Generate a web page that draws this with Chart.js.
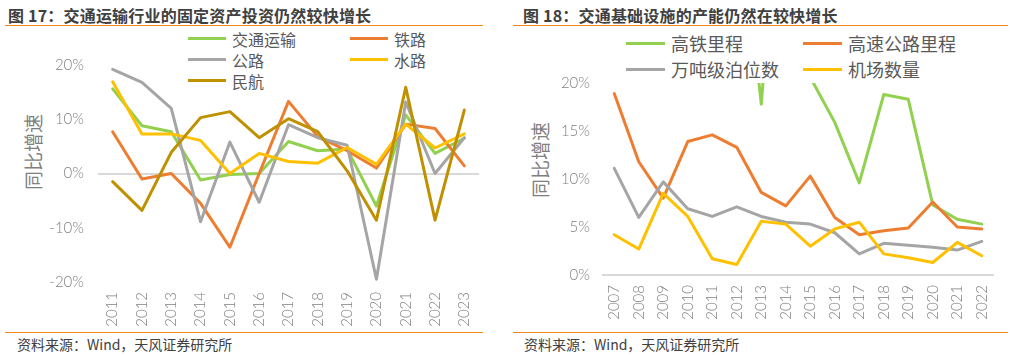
<!DOCTYPE html>
<html>
<head>
<meta charset="utf-8">
<script src="https://cdn.jsdelivr.net/npm/chart.js@4/dist/chart.umd.min.js"></script>
<style>
  html, body { margin: 0; padding: 0; background: #fff; }
  body { width: 1015px; height: 355px; position: relative; overflow: hidden;
         font-family: "Noto Sans CJK SC", "Noto Sans", sans-serif; }
  .title { position: absolute; top: 3px; font-size: 16px; font-weight: bold; color: #404040; white-space: nowrap; letter-spacing: 0.2px; }
  .rule { position: absolute; height: 1px; background: #F08519; }
  .source { position: absolute; top: 334px; font-size: 14px; color: #404040; white-space: nowrap; }
  .ytitle { position: absolute; font-size: 19px; color: #7f7f7f; transform: rotate(-90deg); transform-origin: center center; white-space: nowrap; }
  .legend { position: absolute; color: #595959; }
  .lg-item { position: absolute; display: flex; align-items: center; white-space: nowrap; }
  .lg-line { display: inline-block; height: 3px; margin-right: 6px; }
  canvas { position: absolute; top: 0; }
</style>
</head>
<body>
<div class="title" style="left:8px;">图 17：交通运输行业的固定资产投资仍然较快增长</div>
<div class="rule" style="left:5px; width:478px; top:25px;"></div>
<div class="rule" style="left:5px; width:478px; top:332px;"></div>
<div class="source" style="left:17px;">资料来源：Wind，天风证券研究所</div>

<div class="title" style="left:523px;">图 18：交通基础设施的产能仍然在较快增长</div>
<div class="rule" style="left:513px; width:495px; top:25px;"></div>
<div class="rule" style="left:513px; width:495px; top:332px;"></div>
<div class="source" style="left:524px;">资料来源：Wind，天风证券研究所</div>

<div class="ytitle" style="left:-5px; top:140px; width:76px; height:24px; line-height:24px;">同比增速</div>
<div class="ytitle" style="left:502px; top:148px; width:76px; height:24px; line-height:24px;">同比增速</div>

<div id="legend1" class="legend"></div>
<div id="legend2" class="legend"></div>

<canvas id="c1" width="495" height="330" style="left:0px; width:495px; height:330px;"></canvas>
<canvas id="c2" width="505" height="330" style="left:505px; width:505px; height:330px;"></canvas>

<script>
// ---------- Chart 17 data ----------
const years1 = ['2011','2012','2013','2014','2015','2016','2017','2018','2019','2020','2021','2022','2023'];
const transport = [15.6, 8.8, 7.7, -1.2, -0.2, 0.0, 5.9, 4.2, 4.5, -6.0, 10.8, 3.7, 6.5];
const railway   = [7.7, -1.0, 0.0, -5.5, -13.6, 0.0, 13.3, 6.8, 4.2, 1.0, 9.1, 8.3, 1.4];
const highway   = [19.2, 16.8, 12.0, -8.9, 5.8, -5.3, 9.0, 6.6, 5.2, -19.5, 13.2, 0.0, 6.6];
const waterway  = [16.9, 7.3, 7.3, 6.1, 0.0, 3.7, 2.2, 1.9, 4.8, 1.7, 9.1, 4.7, 7.3];
const aviation  = [-1.5, -6.8, 3.9, 10.3, 11.4, 6.6, 10.1, 7.7, 0.5, -8.6, 15.9, -8.6, 11.7];
const labels1 = ['交通运输', '铁路', '公路', '水路', '民航'];
const yTicks1 = { min: -20, max: 20, step: 10 };

// ---------- Chart 18 data ----------
const years2 = ['2007','2008','2009','2010','2011','2012','2013','2014','2015','2016','2017','2018','2019','2020','2021','2022'];
const hsrMileage     = [null, null, 301.6, 90.2, 28.6, 41.7, 17.8, 49.2, 20.6, 15.9, 9.6, 18.8, 18.3, 7.3, 5.8, 5.3];
const expressway     = [18.9, 11.8, 8.0, 13.9, 14.6, 13.3, 8.6, 7.2, 10.3, 6.0, 4.2, 4.6, 4.9, 7.6, 5.0, 4.8];
const berths         = [11.1, 6.0, 9.7, 6.9, 6.1, 7.1, 6.1, 5.5, 5.3, 4.4, 2.2, 3.3, 3.1, 2.9, 2.6, 3.5];
const airports       = [4.2, 2.7, 8.5, 6.1, 1.7, 1.1, 5.6, 5.3, 3.0, 4.8, 5.5, 2.2, 1.8, 1.3, 3.4, 2.0];
const labels2 = ['高铁里程', '高速公路里程', '万吨级泊位数', '机场数量'];
const yTicks2 = { min: 0, max: 20, step: 5 };

// ---------- styling ----------
const GREEN = '#92D050', ORANGE = '#ED7D31', GRAY = '#A5A5A5', YELLOW = '#FFC000', BROWN = '#BF9000';
const TICK_FONT = { family: 'Lato, "Liberation Sans", sans-serif', size: 15, weight: 300 };
const TICK_COLOR = '#808080';

function makeDatasets(series, labels, colors) {
  const n = series.length;
  return series.map((d, i) => ({
    label: labels[i], data: d, borderColor: colors[i], backgroundColor: colors[i],
    borderWidth: 3, pointRadius: 0, tension: 0, fill: false,
    borderJoinStyle: 'round', borderCapStyle: 'round', order: n - i
  }));
}

function makeChart(id, labels, datasets, yt, cfg) {
  return new Chart(document.getElementById(id), {
    type: 'line',
    data: { labels: labels, datasets: datasets },
    options: {
      responsive: false, animation: false, maintainAspectRatio: false,
      layout: { padding: { top: cfg.top, right: cfg.right, left: 0, bottom: 0 } },
      plugins: { legend: { display: false }, tooltip: { enabled: false } },
      scales: {
        x: {
          offset: true,
          grid: { display: false, drawTicks: false },
          border: { display: false },
          ticks: { color: TICK_COLOR, font: TICK_FONT, minRotation: 90, maxRotation: 90, padding: cfg.xpad, autoSkip: false },
          afterFit: (s) => { s.height = cfg.xh; }
        },
        y: {
          min: yt.min, max: yt.max,
          grid: { drawTicks: false, color: (c) => (c.tick && c.tick.value === 0) ? '#D9D9D9' : 'rgba(0,0,0,0)', lineWidth: 2 },
          border: { display: false },
          ticks: { stepSize: yt.step, color: TICK_COLOR, font: TICK_FONT, padding: cfg.ypad, callback: (v) => v + '%' },
          afterFit: (s) => { s.width = cfg.yw; }
        }
      }
    }
  });
}

function makeLegend(elId, labels, colors, pos) {
  const el = document.getElementById(elId);
  labels.forEach((lab, i) => {
    const col = i % 2, row = Math.floor(i / 2);
    const item = document.createElement('div');
    item.className = 'lg-item';
    item.style.left = pos.cols[col] + 'px';
    item.style.top = (pos.top + row * pos.rowH) + 'px';
    item.style.fontSize = pos.font + 'px';
    item.style.height = pos.rowH + 'px';
    const ln = document.createElement('span');
    ln.className = 'lg-line';
    ln.style.width = pos.lineW + 'px';
    ln.style.background = colors[i];
    const tx = document.createElement('span');
    tx.textContent = lab;
    item.appendChild(ln); item.appendChild(tx);
    el.appendChild(item);
  });
}

const colors1 = [GREEN, ORANGE, GRAY, YELLOW, BROWN];
const colors2 = [GREEN, ORANGE, GRAY, YELLOW];

makeChart('c1', years1, makeDatasets([transport, railway, highway, waterway, aviation], labels1, colors1), yTicks1,
  { top: 65, right: 16, yw: 98, xh: 48, xpad: 10, ypad: 14 });
makeChart('c2', years2, makeDatasets([hsrMileage, expressway, berths, airports], labels2, colors2), yTicks2,
  { top: 83, right: 7, yw: 97, xh: 55, xpad: 10, ypad: 12 });

makeLegend('legend1', labels1, colors1, { cols: [188, 350], top: 28, rowH: 21, font: 16, lineW: 38 });
makeLegend('legend2', labels2, colors2, { cols: [626, 803], top: 30, rowH: 26, font: 18, lineW: 39 });
</script>
</body>
</html>
